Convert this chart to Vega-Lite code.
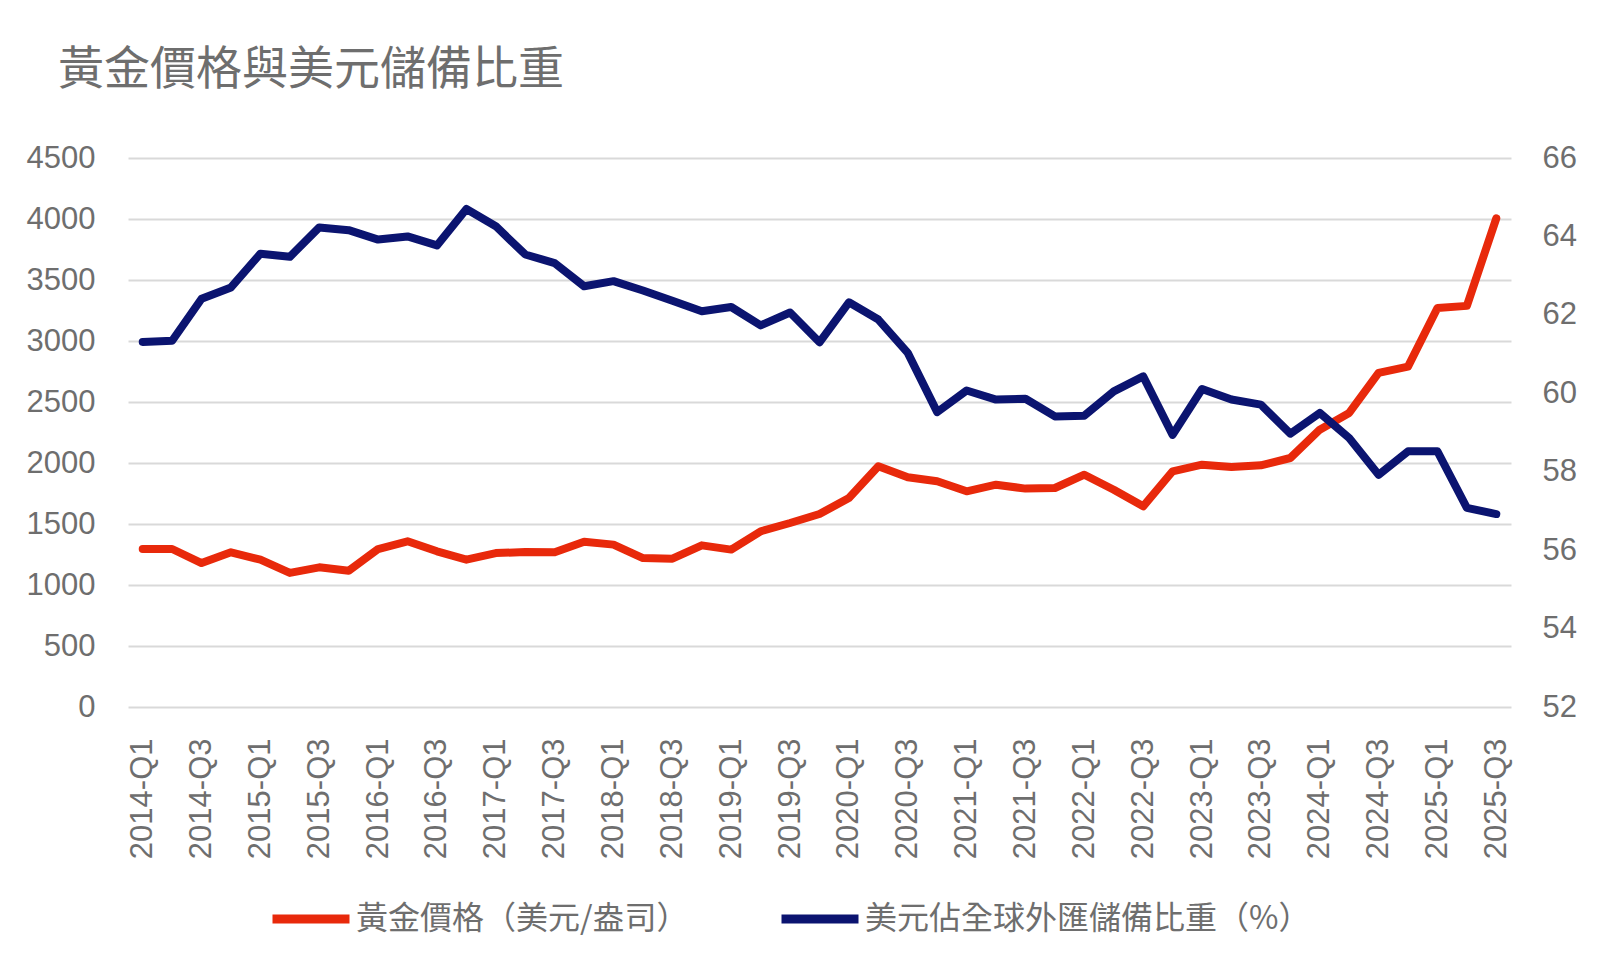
{
  "$schema": "https://vega.github.io/schema/vega-lite/v6.json",
  "autosize": {"type": "none"},
  "padding": {"left": 128, "top": 158, "right": 89, "bottom": 259},
  "width": 1383,
  "height": 549,
  "background": "white",
  "title": {
    "text": "黃金價格與美元儲備比重",
    "anchor": "start",
    "frame": "group",
    "dx": -70,
    "offset": 12,
    "baseline": "alphabetic",
    "font": "Noto Sans CJK TC",
    "fontSize": 46,
    "fontWeight": "normal",
    "color": "#6E6E6E"
  },
  "config": {
    "view": {"stroke": null},
    "axis": {
      "labelFont": "Liberation Sans",
      "labelFontSize": 31,
      "labelColor": "#6E6E6E",
      "ticks": false,
      "tickSize": 0,
      "domain": false,
      "title": null
    },
    "legend": {
      "labelFont": "Noto Sans CJK TC",
      "labelFontSize": 32,
      "labelColor": "#6E6E6E",
      "labelLimit": 0
    }
  },
  "data": {
    "values": [
      {"q": "2014-Q1", "gold": 1295, "usd": 61.31},
      {"q": "2014-Q2", "gold": 1295, "usd": 61.34},
      {"q": "2014-Q3", "gold": 1180, "usd": 62.41},
      {"q": "2014-Q4", "gold": 1268, "usd": 62.70},
      {"q": "2015-Q1", "gold": 1208, "usd": 63.56},
      {"q": "2015-Q2", "gold": 1099, "usd": 63.48},
      {"q": "2015-Q3", "gold": 1145, "usd": 64.23},
      {"q": "2015-Q4", "gold": 1117, "usd": 64.16},
      {"q": "2016-Q1", "gold": 1295, "usd": 63.92},
      {"q": "2016-Q2", "gold": 1358, "usd": 64.00},
      {"q": "2016-Q3", "gold": 1276, "usd": 63.77},
      {"q": "2016-Q4", "gold": 1208, "usd": 64.70},
      {"q": "2017-Q1", "gold": 1262, "usd": 64.26},
      {"q": "2017-Q2", "gold": 1270, "usd": 63.54},
      {"q": "2017-Q3", "gold": 1268, "usd": 63.32},
      {"q": "2017-Q4", "gold": 1355, "usd": 62.73},
      {"q": "2018-Q1", "gold": 1331, "usd": 62.86},
      {"q": "2018-Q2", "gold": 1221, "usd": 62.62},
      {"q": "2018-Q3", "gold": 1216, "usd": 62.36},
      {"q": "2018-Q4", "gold": 1325, "usd": 62.09},
      {"q": "2019-Q1", "gold": 1290, "usd": 62.20},
      {"q": "2019-Q2", "gold": 1440, "usd": 61.73},
      {"q": "2019-Q3", "gold": 1508, "usd": 62.06},
      {"q": "2019-Q4", "gold": 1582, "usd": 61.30},
      {"q": "2020-Q1", "gold": 1713, "usd": 62.32},
      {"q": "2020-Q2", "gold": 1973, "usd": 61.88},
      {"q": "2020-Q3", "gold": 1883, "usd": 61.03},
      {"q": "2020-Q4", "gold": 1850, "usd": 59.52},
      {"q": "2021-Q1", "gold": 1768, "usd": 60.07},
      {"q": "2021-Q2", "gold": 1822, "usd": 59.84},
      {"q": "2021-Q3", "gold": 1790, "usd": 59.86},
      {"q": "2021-Q4", "gold": 1795, "usd": 59.41},
      {"q": "2022-Q1", "gold": 1904, "usd": 59.43},
      {"q": "2022-Q2", "gold": 1781, "usd": 60.05},
      {"q": "2022-Q3", "gold": 1645, "usd": 60.43},
      {"q": "2022-Q4", "gold": 1932, "usd": 58.94},
      {"q": "2023-Q1", "gold": 1986, "usd": 60.11},
      {"q": "2023-Q2", "gold": 1967, "usd": 59.84},
      {"q": "2023-Q3", "gold": 1981, "usd": 59.71},
      {"q": "2023-Q4", "gold": 2041, "usd": 58.97},
      {"q": "2024-Q1", "gold": 2273, "usd": 59.50},
      {"q": "2024-Q2", "gold": 2410, "usd": 58.86},
      {"q": "2024-Q3", "gold": 2738, "usd": 57.92},
      {"q": "2024-Q4", "gold": 2790, "usd": 58.52},
      {"q": "2025-Q1", "gold": 3270, "usd": 58.52},
      {"q": "2025-Q2", "gold": 3288, "usd": 57.08},
      {"q": "2025-Q3", "gold": 4005, "usd": 56.92}
    ]
  },
  "encoding": {
    "x": {
      "field": "q",
      "type": "ordinal",
      "sort": null,
      "scale": {"type": "point", "padding": 0.5},
      "axis": {
        "values": ["2014-Q1", "2014-Q3", "2015-Q1", "2015-Q3", "2016-Q1", "2016-Q3", "2017-Q1", "2017-Q3", "2018-Q1", "2018-Q3", "2019-Q1", "2019-Q3", "2020-Q1", "2020-Q3", "2021-Q1", "2021-Q3", "2022-Q1", "2022-Q3", "2023-Q1", "2023-Q3", "2024-Q1", "2024-Q3", "2025-Q1", "2025-Q3"],
        "labelAngle": 270,
        "labelAlign": "right",
        "labelBaseline": "middle",
        "labelPadding": 31,
        "grid": false
      }
    }
  },
  "layer": [
    {
      "mark": {"type": "line", "strokeWidth": 8, "strokeCap": "round", "strokeJoin": "round"},
      "encoding": {
        "y": {
          "field": "gold",
          "type": "quantitative",
          "scale": {"domain": [0, 4500], "nice": false},
          "axis": {
            "orient": "left",
            "values": [0, 500, 1000, 1500, 2000, 2500, 3000, 3500, 4000, 4500],
            "format": "d",
            "labelPadding": 33,
            "grid": true,
            "gridColor": "#D9D9D9",
            "gridWidth": 2
          }
        },
        "color": {
          "datum": "黃金價格（美元/盎司）",
          "type": "nominal",
          "scale": {
            "domain": ["黃金價格（美元/盎司）", "美元佔全球外匯儲備比重（%）"],
            "range": ["#E8290B", "#0B1470"]
          },
          "legend": {
            "orient": "none",
            "legendX": 140,
            "legendY": 718,
            "direction": "horizontal",
            "title": null,
            "padding": 0,
            "symbolType": "stroke",
            "symbolSize": 5929,
            "symbolStrokeWidth": 9,
            "labelOffset": 2,
            "columnPadding": 74
          }
        }
      }
    },
    {
      "mark": {"type": "line", "strokeWidth": 8, "strokeCap": "round", "strokeJoin": "round"},
      "encoding": {
        "y": {
          "field": "usd",
          "type": "quantitative",
          "scale": {"domain": [52, 66], "nice": false, "zero": false},
          "axis": {
            "orient": "right",
            "values": [52, 54, 56, 58, 60, 62, 64, 66],
            "labelPadding": 31,
            "grid": false
          }
        },
        "color": {"datum": "美元佔全球外匯儲備比重（%）", "type": "nominal"}
      }
    }
  ],
  "resolve": {"scale": {"y": "independent"}}
}
